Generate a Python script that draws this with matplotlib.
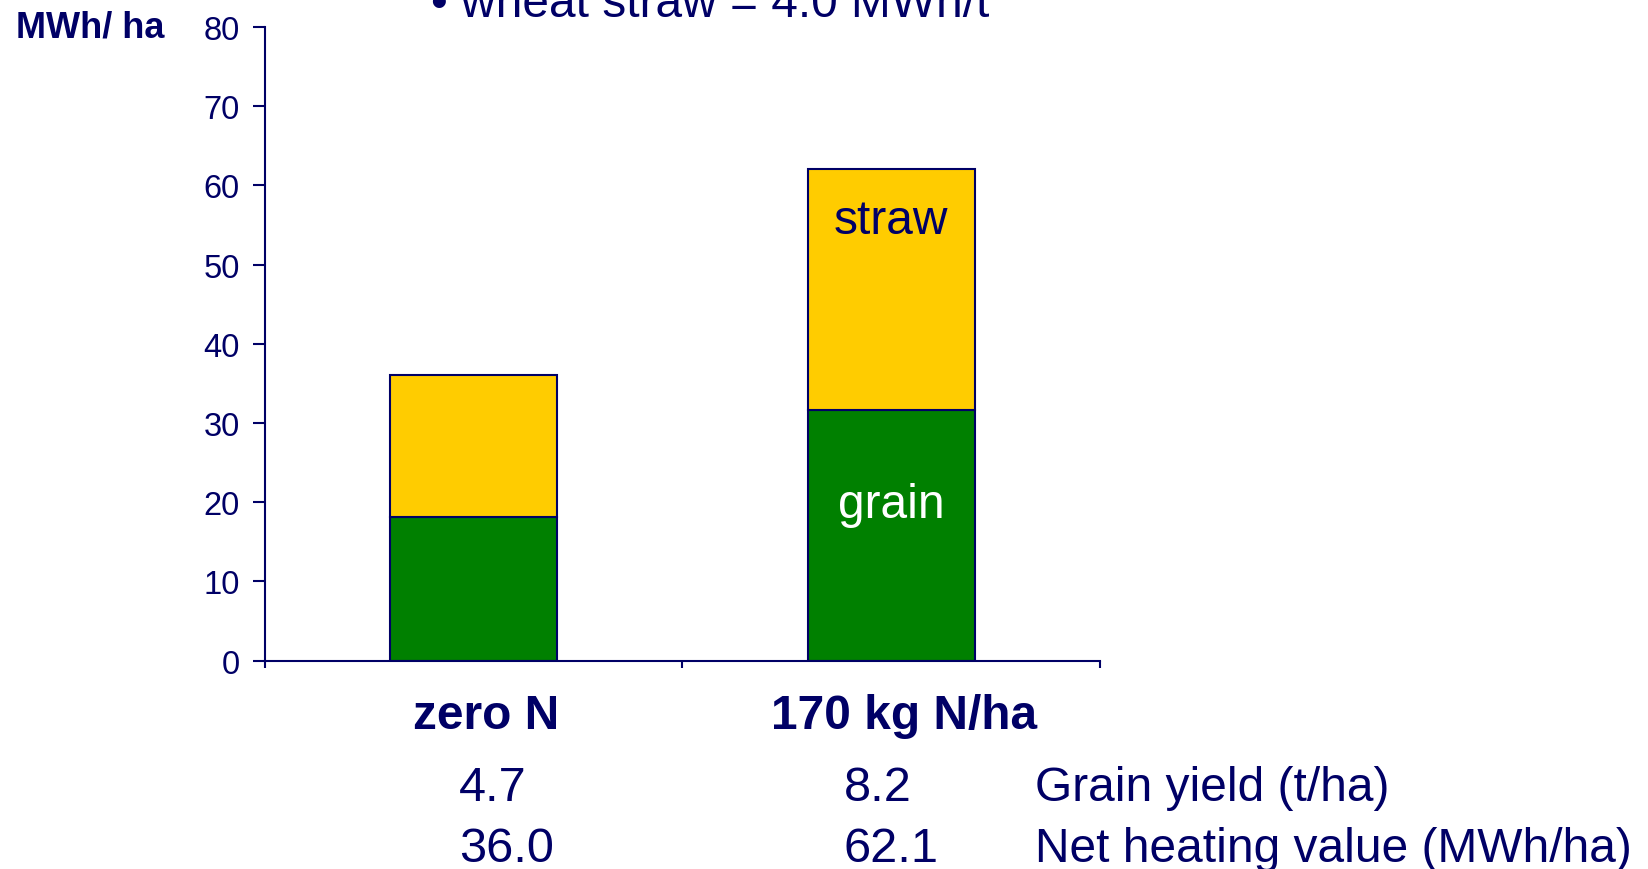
import matplotlib
matplotlib.use("Agg")
import matplotlib.pyplot as plt

categories = ["zero N", "170 kg N/ha"]
grain = [18.2, 31.6]
straw = [17.8, 30.5]
grain_yield = ["4.7", "8.2"]
heating_value = ["36.0", "62.1"]
row_labels = ["Grain yield (t/ha)", "Net heating value (MWh/ha)"]

NAVY = "#000066"
plt.rcParams["font.family"] = ["Liberation Sans", "DejaVu Sans"]

fig = plt.figure(figsize=(16.49, 8.70), dpi=100)
ax = fig.add_axes([0.1607, 0.2394, 0.5063, 0.7286])

x = range(len(categories))
ax.bar(x, grain, width=0.4, color="#008000", edgecolor=NAVY, lw=1.5)
ax.bar(x, straw, width=0.4, bottom=grain, color="#FFCC00", edgecolor=NAVY, lw=1.5)

ax.text(1, 55.5, "straw", ha="center", va="center", fontsize=34.5, color=NAVY)
ax.text(1, 19.7, "grain", ha="center", va="center", fontsize=34.5, color="white")

ax.set_xlim(-0.5, 1.5)
ax.set_ylim(0, 80)
ax.set_yticks(range(0, 81, 10))
ax.set_xticks([-0.5, 0.5, 1.5])
ax.set_xticklabels([])
for s in ["top", "right"]:
    ax.spines[s].set_visible(False)
for s in ["left", "bottom"]:
    ax.spines[s].set_color(NAVY)
    ax.spines[s].set_linewidth(1.5)
ax.tick_params(axis="y", direction="out", length=9, width=1.5, color=NAVY,
               labelcolor=NAVY, labelsize=23.5, pad=9)
ax.tick_params(axis="x", direction="out", length=5, width=1.5, color=NAVY)

# category labels and value rows below the axis
trans = ax.get_xaxis_transform()
for i, cat in enumerate(categories):
    ax.text(i + 0.03, -0.086, cat, transform=trans, ha="center", va="center",
            fontsize=34.5, fontweight="bold", color=NAVY)

col_x = [459 / 1649, 844 / 1649]
y1, y2 = 1 - 789 / 870, 1 - 850 / 870
for i in range(len(categories)):
    fig.text(col_x[i], y1, grain_yield[i], ha="left", va="center",
             fontsize=35, color=NAVY)
    fig.text(col_x[i], y2, heating_value[i], ha="left", va="center",
             fontsize=35, color=NAVY)
fig.text(1035 / 1649, y1, row_labels[0], ha="left", va="center",
         fontsize=34.5, color=NAVY)
fig.text(1035 / 1649, y2, row_labels[1], ha="left", va="center",
         fontsize=34.5, color=NAVY)

fig.text(16 / 1649, 1 - 28 / 870, "MWh/ ha", ha="left", va="center",
         fontsize=26, fontweight="bold", color=NAVY)
fig.text(431 / 1649, 1 - 17 / 870, "\u2022 wheat straw = 4.0 MWh/t", ha="left",
         va="baseline", fontsize=34.5, color=NAVY)

fig.savefig("out.png", dpi=100)
